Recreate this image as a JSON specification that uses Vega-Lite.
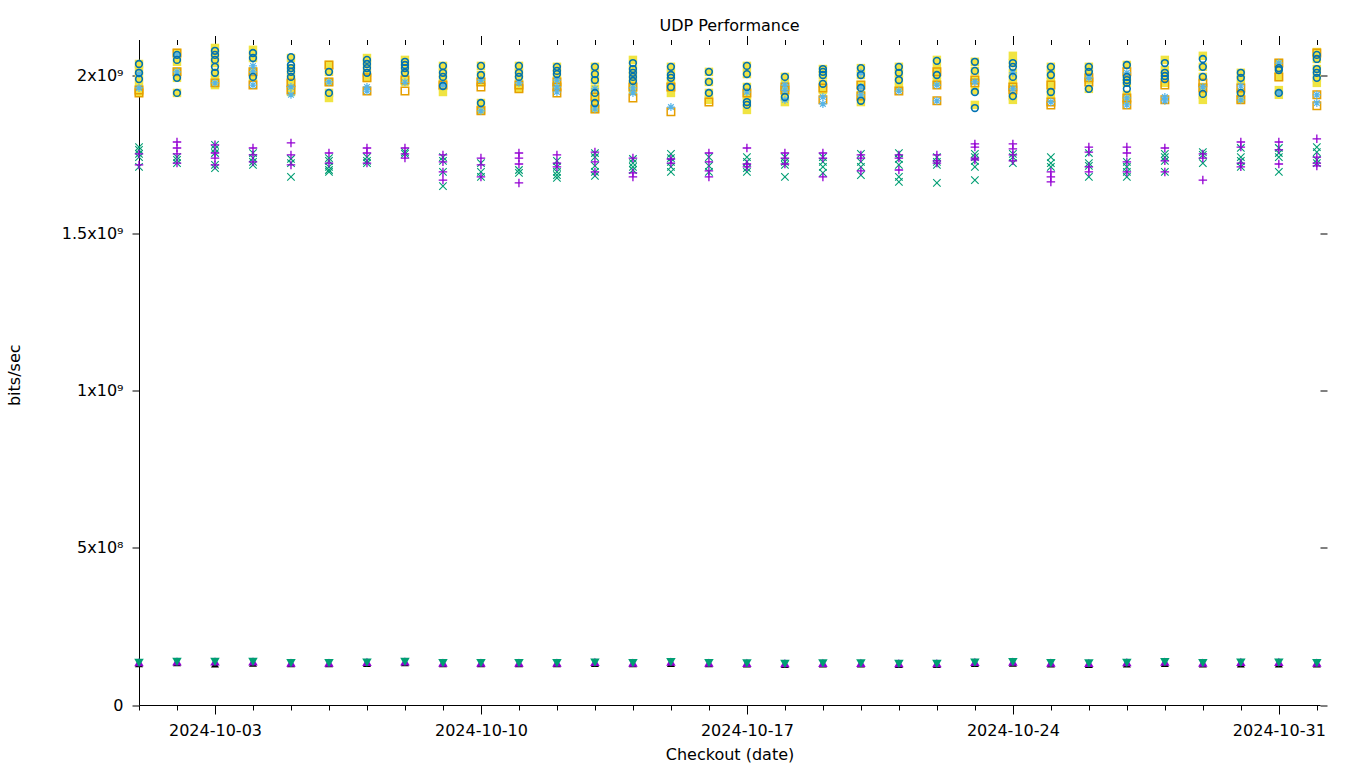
{
"$schema":"https://vega.github.io/schema/vega-lite/v6.json",
"width":1181,"height":660.5,
"autosize":"none",
"padding":{"left":139,"top":44.5,"right":40,"bottom":63},
"background":"white",
"title":{"text":"UDP Performance","font":"DejaVu Sans","fontSize":16,"fontWeight":"normal","color":"black","anchor":"middle","offset":1},
"config":{"view":{"stroke":null},"axis":{"labelFont":"DejaVu Sans","titleFont":"DejaVu Sans","labelFontSize":16,"titleFontSize":16,"titleFontWeight":"normal","labelColor":"black","titleColor":"black","tickColor":"black","domainColor":"black","grid":false,"tickWidth":1,"domainWidth":1}},
"data":{"format":{"parse":{"date":"utc:'%Y-%m-%d'"}},"values":[
{"date":"2024-10-01","s":"s8","bps":1.31e8},{"date":"2024-10-01","s":"s9","bps":1.36e8},{"date":"2024-10-01","s":"s10","bps":1.34e8},
{"date":"2024-10-01","s":"s6","bps":2.038e9},{"date":"2024-10-01","s":"s6","bps":2.010e9},{"date":"2024-10-01","s":"s6","bps":1.990e9},
{"date":"2024-10-01","s":"s4","bps":1.955e9},{"date":"2024-10-01","s":"s4","bps":1.946e9},
{"date":"2024-10-01","s":"s3","bps":2.006e9},{"date":"2024-10-01","s":"s3","bps":1.962e9},
{"date":"2024-10-01","s":"s5","bps":2.038e9},{"date":"2024-10-01","s":"s5","bps":2.019e9},{"date":"2024-10-01","s":"s5","bps":1.997e9},{"date":"2024-10-01","s":"s5","bps":1.971e9},{"date":"2024-10-01","s":"s5","bps":1.949e9},
{"date":"2024-10-01","s":"s1","bps":1.752e9},{"date":"2024-10-01","s":"s1","bps":1.717e9},
{"date":"2024-10-01","s":"s2","bps":1.774e9},{"date":"2024-10-01","s":"s2","bps":1.765e9},{"date":"2024-10-01","s":"s2","bps":1.752e9},{"date":"2024-10-01","s":"s2","bps":1.742e9},{"date":"2024-10-01","s":"s2","bps":1.711e9},

{"date":"2024-10-02","s":"s8","bps":1.34e8},{"date":"2024-10-02","s":"s9","bps":1.39e8},{"date":"2024-10-02","s":"s10","bps":1.37e8},
{"date":"2024-10-02","s":"s6","bps":2.067e9},{"date":"2024-10-02","s":"s6","bps":2.051e9},{"date":"2024-10-02","s":"s6","bps":1.994e9},{"date":"2024-10-02","s":"s6","bps":1.946e9},
{"date":"2024-10-02","s":"s4","bps":2.073e9},{"date":"2024-10-02","s":"s4","bps":2.013e9},
{"date":"2024-10-02","s":"s3","bps":2.067e9},{"date":"2024-10-02","s":"s3","bps":2.013e9},
{"date":"2024-10-02","s":"s5","bps":2.073e9},{"date":"2024-10-02","s":"s5","bps":2.045e9},{"date":"2024-10-02","s":"s5","bps":2.013e9},{"date":"2024-10-02","s":"s5","bps":1.994e9},{"date":"2024-10-02","s":"s5","bps":1.946e9},
{"date":"2024-10-02","s":"s1","bps":1.790e9},{"date":"2024-10-02","s":"s1","bps":1.771e9},{"date":"2024-10-02","s":"s1","bps":1.752e9},{"date":"2024-10-02","s":"s1","bps":1.723e9},
{"date":"2024-10-02","s":"s2","bps":1.742e9},{"date":"2024-10-02","s":"s2","bps":1.733e9},{"date":"2024-10-02","s":"s2","bps":1.723e9},

{"date":"2024-10-03","s":"s8","bps":1.30e8},{"date":"2024-10-03","s":"s9","bps":1.39e8},{"date":"2024-10-03","s":"s10","bps":1.37e8},
{"date":"2024-10-03","s":"s6","bps":2.080e9},{"date":"2024-10-03","s":"s6","bps":2.067e9},{"date":"2024-10-03","s":"s6","bps":2.051e9},{"date":"2024-10-03","s":"s6","bps":2.029e9},{"date":"2024-10-03","s":"s6","bps":2.010e9},
{"date":"2024-10-03","s":"s4","bps":1.978e9},
{"date":"2024-10-03","s":"s3","bps":1.978e9},
{"date":"2024-10-03","s":"s5","bps":2.089e9},{"date":"2024-10-03","s":"s5","bps":2.067e9},{"date":"2024-10-03","s":"s5","bps":2.041e9},{"date":"2024-10-03","s":"s5","bps":2.010e9},{"date":"2024-10-03","s":"s5","bps":1.987e9},{"date":"2024-10-03","s":"s5","bps":1.971e9},
{"date":"2024-10-03","s":"s1","bps":1.781e9},{"date":"2024-10-03","s":"s1","bps":1.755e9},{"date":"2024-10-03","s":"s1","bps":1.739e9},{"date":"2024-10-03","s":"s1","bps":1.717e9},
{"date":"2024-10-03","s":"s2","bps":1.781e9},{"date":"2024-10-03","s":"s2","bps":1.768e9},{"date":"2024-10-03","s":"s2","bps":1.755e9},{"date":"2024-10-03","s":"s2","bps":1.717e9},{"date":"2024-10-03","s":"s2","bps":1.707e9},

{"date":"2024-10-04","s":"s8","bps":1.33e8},{"date":"2024-10-04","s":"s9","bps":1.39e8},{"date":"2024-10-04","s":"s10","bps":1.37e8},
{"date":"2024-10-04","s":"s6","bps":2.073e9},{"date":"2024-10-04","s":"s6","bps":2.057e9},{"date":"2024-10-04","s":"s6","bps":1.997e9},
{"date":"2024-10-04","s":"s4","bps":2.013e9},{"date":"2024-10-04","s":"s4","bps":1.971e9},
{"date":"2024-10-04","s":"s3","bps":2.032e9},{"date":"2024-10-04","s":"s3","bps":2.013e9},{"date":"2024-10-04","s":"s3","bps":1.971e9},
{"date":"2024-10-04","s":"s5","bps":2.083e9},{"date":"2024-10-04","s":"s5","bps":2.057e9},{"date":"2024-10-04","s":"s5","bps":2.013e9},{"date":"2024-10-04","s":"s5","bps":1.997e9},
{"date":"2024-10-04","s":"s1","bps":1.771e9},{"date":"2024-10-04","s":"s1","bps":1.749e9},{"date":"2024-10-04","s":"s1","bps":1.727e9},
{"date":"2024-10-04","s":"s2","bps":1.755e9},{"date":"2024-10-04","s":"s2","bps":1.739e9},{"date":"2024-10-04","s":"s2","bps":1.727e9},{"date":"2024-10-04","s":"s2","bps":1.717e9},

{"date":"2024-10-05","s":"s8","bps":1.31e8},{"date":"2024-10-05","s":"s9","bps":1.35e8},{"date":"2024-10-05","s":"s10","bps":1.33e8},
{"date":"2024-10-05","s":"s6","bps":2.060e9},{"date":"2024-10-05","s":"s6","bps":2.035e9},{"date":"2024-10-05","s":"s6","bps":2.025e9},{"date":"2024-10-05","s":"s6","bps":2.013e9},{"date":"2024-10-05","s":"s6","bps":1.997e9},
{"date":"2024-10-05","s":"s4","bps":1.978e9},{"date":"2024-10-05","s":"s4","bps":1.955e9},
{"date":"2024-10-05","s":"s3","bps":1.965e9},{"date":"2024-10-05","s":"s3","bps":1.940e9},
{"date":"2024-10-05","s":"s5","bps":2.057e9},{"date":"2024-10-05","s":"s5","bps":2.025e9},{"date":"2024-10-05","s":"s5","bps":1.997e9},{"date":"2024-10-05","s":"s5","bps":1.971e9},{"date":"2024-10-05","s":"s5","bps":1.949e9},
{"date":"2024-10-05","s":"s1","bps":1.787e9},{"date":"2024-10-05","s":"s1","bps":1.749e9},{"date":"2024-10-05","s":"s1","bps":1.717e9},
{"date":"2024-10-05","s":"s2","bps":1.736e9},{"date":"2024-10-05","s":"s2","bps":1.723e9},{"date":"2024-10-05","s":"s2","bps":1.679e9},

{"date":"2024-10-06","s":"s8","bps":1.31e8},{"date":"2024-10-06","s":"s9","bps":1.35e8},{"date":"2024-10-06","s":"s10","bps":1.33e8},
{"date":"2024-10-06","s":"s6","bps":2.013e9},{"date":"2024-10-06","s":"s6","bps":1.946e9},
{"date":"2024-10-06","s":"s4","bps":2.035e9},{"date":"2024-10-06","s":"s4","bps":1.981e9},
{"date":"2024-10-06","s":"s3","bps":1.981e9},
{"date":"2024-10-06","s":"s5","bps":2.035e9},{"date":"2024-10-06","s":"s5","bps":2.013e9},{"date":"2024-10-06","s":"s5","bps":1.981e9},{"date":"2024-10-06","s":"s5","bps":1.946e9},{"date":"2024-10-06","s":"s5","bps":1.930e9},
{"date":"2024-10-06","s":"s1","bps":1.755e9},{"date":"2024-10-06","s":"s1","bps":1.723e9},
{"date":"2024-10-06","s":"s2","bps":1.739e9},{"date":"2024-10-06","s":"s2","bps":1.730e9},{"date":"2024-10-06","s":"s2","bps":1.711e9},{"date":"2024-10-06","s":"s2","bps":1.701e9},{"date":"2024-10-06","s":"s2","bps":1.695e9},

{"date":"2024-10-07","s":"s8","bps":1.32e8},{"date":"2024-10-07","s":"s9","bps":1.37e8},{"date":"2024-10-07","s":"s10","bps":1.35e8},
{"date":"2024-10-07","s":"s6","bps":2.051e9},{"date":"2024-10-07","s":"s6","bps":2.038e9},{"date":"2024-10-07","s":"s6","bps":2.025e9},{"date":"2024-10-07","s":"s6","bps":2.010e9},
{"date":"2024-10-07","s":"s4","bps":1.994e9},{"date":"2024-10-07","s":"s4","bps":1.952e9},
{"date":"2024-10-07","s":"s3","bps":1.965e9},{"date":"2024-10-07","s":"s3","bps":1.952e9},
{"date":"2024-10-07","s":"s5","bps":2.057e9},{"date":"2024-10-07","s":"s5","bps":2.038e9},{"date":"2024-10-07","s":"s5","bps":2.010e9},{"date":"2024-10-07","s":"s5","bps":1.994e9},
{"date":"2024-10-07","s":"s1","bps":1.771e9},{"date":"2024-10-07","s":"s1","bps":1.755e9},{"date":"2024-10-07","s":"s1","bps":1.723e9},
{"date":"2024-10-07","s":"s2","bps":1.742e9},{"date":"2024-10-07","s":"s2","bps":1.730e9},{"date":"2024-10-07","s":"s2","bps":1.723e9},

{"date":"2024-10-08","s":"s8","bps":1.34e8},{"date":"2024-10-08","s":"s9","bps":1.39e8},{"date":"2024-10-08","s":"s10","bps":1.37e8},
{"date":"2024-10-08","s":"s6","bps":2.045e9},{"date":"2024-10-08","s":"s6","bps":2.035e9},{"date":"2024-10-08","s":"s6","bps":2.025e9},{"date":"2024-10-08","s":"s6","bps":2.010e9},
{"date":"2024-10-08","s":"s4","bps":1.987e9},{"date":"2024-10-08","s":"s4","bps":1.952e9},
{"date":"2024-10-08","s":"s3","bps":1.980e9},
{"date":"2024-10-08","s":"s5","bps":2.051e9},{"date":"2024-10-08","s":"s5","bps":2.025e9},{"date":"2024-10-08","s":"s5","bps":2.003e9},{"date":"2024-10-08","s":"s5","bps":1.981e9},
{"date":"2024-10-08","s":"s1","bps":1.771e9},{"date":"2024-10-08","s":"s1","bps":1.752e9},{"date":"2024-10-08","s":"s1","bps":1.739e9},
{"date":"2024-10-08","s":"s2","bps":1.758e9},{"date":"2024-10-08","s":"s2","bps":1.752e9},

{"date":"2024-10-09","s":"s8","bps":1.31e8},{"date":"2024-10-09","s":"s9","bps":1.35e8},{"date":"2024-10-09","s":"s10","bps":1.33e8},
{"date":"2024-10-09","s":"s6","bps":2.032e9},{"date":"2024-10-09","s":"s6","bps":2.010e9},{"date":"2024-10-09","s":"s6","bps":1.997e9},{"date":"2024-10-09","s":"s6","bps":1.968e9},
{"date":"2024-10-09","s":"s4","bps":1.971e9},
{"date":"2024-10-09","s":"s3","bps":1.971e9},
{"date":"2024-10-09","s":"s5","bps":2.032e9},{"date":"2024-10-09","s":"s5","bps":2.010e9},{"date":"2024-10-09","s":"s5","bps":1.987e9},{"date":"2024-10-09","s":"s5","bps":1.968e9},{"date":"2024-10-09","s":"s5","bps":1.949e9},
{"date":"2024-10-09","s":"s1","bps":1.749e9},{"date":"2024-10-09","s":"s1","bps":1.727e9},{"date":"2024-10-09","s":"s1","bps":1.695e9},{"date":"2024-10-09","s":"s1","bps":1.669e9},
{"date":"2024-10-09","s":"s2","bps":1.742e9},{"date":"2024-10-09","s":"s2","bps":1.730e9},{"date":"2024-10-09","s":"s2","bps":1.695e9},{"date":"2024-10-09","s":"s2","bps":1.650e9},

{"date":"2024-10-10","s":"s8","bps":1.31e8},{"date":"2024-10-10","s":"s9","bps":1.35e8},{"date":"2024-10-10","s":"s10","bps":1.33e8},
{"date":"2024-10-10","s":"s6","bps":2.032e9},{"date":"2024-10-10","s":"s6","bps":2.003e9},{"date":"2024-10-10","s":"s6","bps":1.914e9},
{"date":"2024-10-10","s":"s4","bps":1.981e9},{"date":"2024-10-10","s":"s4","bps":1.965e9},{"date":"2024-10-10","s":"s4","bps":1.889e9},
{"date":"2024-10-10","s":"s3","bps":1.987e9},{"date":"2024-10-10","s":"s3","bps":1.889e9},
{"date":"2024-10-10","s":"s5","bps":2.032e9},{"date":"2024-10-10","s":"s5","bps":2.003e9},{"date":"2024-10-10","s":"s5","bps":1.981e9},{"date":"2024-10-10","s":"s5","bps":1.914e9},{"date":"2024-10-10","s":"s5","bps":1.892e9},
{"date":"2024-10-10","s":"s1","bps":1.739e9},{"date":"2024-10-10","s":"s1","bps":1.717e9},{"date":"2024-10-10","s":"s1","bps":1.679e9},
{"date":"2024-10-10","s":"s2","bps":1.723e9},{"date":"2024-10-10","s":"s2","bps":1.695e9},{"date":"2024-10-10","s":"s2","bps":1.679e9},

{"date":"2024-10-11","s":"s8","bps":1.31e8},{"date":"2024-10-11","s":"s9","bps":1.35e8},{"date":"2024-10-11","s":"s10","bps":1.33e8},
{"date":"2024-10-11","s":"s6","bps":2.032e9},{"date":"2024-10-11","s":"s6","bps":2.010e9},{"date":"2024-10-11","s":"s6","bps":1.997e9},
{"date":"2024-10-11","s":"s4","bps":1.971e9},{"date":"2024-10-11","s":"s4","bps":1.959e9},
{"date":"2024-10-11","s":"s3","bps":1.978e9},
{"date":"2024-10-11","s":"s5","bps":2.032e9},{"date":"2024-10-11","s":"s5","bps":2.010e9},{"date":"2024-10-11","s":"s5","bps":1.987e9},{"date":"2024-10-11","s":"s5","bps":1.962e9},
{"date":"2024-10-11","s":"s1","bps":1.755e9},{"date":"2024-10-11","s":"s1","bps":1.739e9},{"date":"2024-10-11","s":"s1","bps":1.720e9},{"date":"2024-10-11","s":"s1","bps":1.660e9},
{"date":"2024-10-11","s":"s2","bps":1.701e9},{"date":"2024-10-11","s":"s2","bps":1.692e9},

{"date":"2024-10-12","s":"s8","bps":1.31e8},{"date":"2024-10-12","s":"s9","bps":1.35e8},{"date":"2024-10-12","s":"s10","bps":1.33e8},
{"date":"2024-10-12","s":"s6","bps":2.029e9},{"date":"2024-10-12","s":"s6","bps":2.016e9},{"date":"2024-10-12","s":"s6","bps":2.006e9},
{"date":"2024-10-12","s":"s4","bps":1.981e9},{"date":"2024-10-12","s":"s4","bps":1.965e9},{"date":"2024-10-12","s":"s4","bps":1.946e9},
{"date":"2024-10-12","s":"s3","bps":1.987e9},{"date":"2024-10-12","s":"s3","bps":1.965e9},{"date":"2024-10-12","s":"s3","bps":1.949e9},
{"date":"2024-10-12","s":"s5","bps":2.029e9},{"date":"2024-10-12","s":"s5","bps":2.006e9},{"date":"2024-10-12","s":"s5","bps":1.981e9},{"date":"2024-10-12","s":"s5","bps":1.965e9},
{"date":"2024-10-12","s":"s1","bps":1.749e9},{"date":"2024-10-12","s":"s1","bps":1.723e9},{"date":"2024-10-12","s":"s1","bps":1.711e9},
{"date":"2024-10-12","s":"s2","bps":1.730e9},{"date":"2024-10-12","s":"s2","bps":1.711e9},{"date":"2024-10-12","s":"s2","bps":1.695e9},{"date":"2024-10-12","s":"s2","bps":1.685e9},{"date":"2024-10-12","s":"s2","bps":1.676e9},

{"date":"2024-10-13","s":"s8","bps":1.32e8},{"date":"2024-10-13","s":"s9","bps":1.37e8},{"date":"2024-10-13","s":"s10","bps":1.35e8},
{"date":"2024-10-13","s":"s6","bps":2.029e9},{"date":"2024-10-13","s":"s6","bps":2.006e9},{"date":"2024-10-13","s":"s6","bps":1.987e9},{"date":"2024-10-13","s":"s6","bps":1.946e9},{"date":"2024-10-13","s":"s6","bps":1.914e9},
{"date":"2024-10-13","s":"s4","bps":1.933e9},{"date":"2024-10-13","s":"s4","bps":1.895e9},
{"date":"2024-10-13","s":"s3","bps":1.959e9},{"date":"2024-10-13","s":"s3","bps":1.895e9},
{"date":"2024-10-13","s":"s5","bps":2.029e9},{"date":"2024-10-13","s":"s5","bps":2.006e9},{"date":"2024-10-13","s":"s5","bps":1.987e9},{"date":"2024-10-13","s":"s5","bps":1.959e9},{"date":"2024-10-13","s":"s5","bps":1.933e9},{"date":"2024-10-13","s":"s5","bps":1.914e9},{"date":"2024-10-13","s":"s5","bps":1.895e9},
{"date":"2024-10-13","s":"s1","bps":1.758e9},{"date":"2024-10-13","s":"s1","bps":1.727e9},{"date":"2024-10-13","s":"s1","bps":1.695e9},
{"date":"2024-10-13","s":"s2","bps":1.755e9},{"date":"2024-10-13","s":"s2","bps":1.742e9},{"date":"2024-10-13","s":"s2","bps":1.714e9},{"date":"2024-10-13","s":"s2","bps":1.695e9},{"date":"2024-10-13","s":"s2","bps":1.682e9},

{"date":"2024-10-14","s":"s8","bps":1.31e8},{"date":"2024-10-14","s":"s9","bps":1.35e8},{"date":"2024-10-14","s":"s10","bps":1.33e8},
{"date":"2024-10-14","s":"s6","bps":2.041e9},{"date":"2024-10-14","s":"s6","bps":2.022e9},{"date":"2024-10-14","s":"s6","bps":2.010e9},{"date":"2024-10-14","s":"s6","bps":1.997e9},{"date":"2024-10-14","s":"s6","bps":1.984e9},
{"date":"2024-10-14","s":"s4","bps":1.965e9},{"date":"2024-10-14","s":"s4","bps":1.930e9},
{"date":"2024-10-14","s":"s3","bps":1.962e9},{"date":"2024-10-14","s":"s3","bps":1.946e9},
{"date":"2024-10-14","s":"s5","bps":2.051e9},{"date":"2024-10-14","s":"s5","bps":2.022e9},{"date":"2024-10-14","s":"s5","bps":1.997e9},{"date":"2024-10-14","s":"s5","bps":1.971e9},{"date":"2024-10-14","s":"s5","bps":1.955e9},
{"date":"2024-10-14","s":"s1","bps":1.739e9},{"date":"2024-10-14","s":"s1","bps":1.692e9},{"date":"2024-10-14","s":"s1","bps":1.679e9},
{"date":"2024-10-14","s":"s2","bps":1.736e9},{"date":"2024-10-14","s":"s2","bps":1.723e9},{"date":"2024-10-14","s":"s2","bps":1.711e9},{"date":"2024-10-14","s":"s2","bps":1.701e9},

{"date":"2024-10-15","s":"s8","bps":1.32e8},{"date":"2024-10-15","s":"s9","bps":1.38e8},{"date":"2024-10-15","s":"s10","bps":1.36e8},
{"date":"2024-10-15","s":"s6","bps":2.029e9},{"date":"2024-10-15","s":"s6","bps":2.003e9},{"date":"2024-10-15","s":"s6","bps":1.994e9},{"date":"2024-10-15","s":"s6","bps":1.965e9},
{"date":"2024-10-15","s":"s4","bps":1.965e9},{"date":"2024-10-15","s":"s4","bps":1.886e9},
{"date":"2024-10-15","s":"s3","bps":1.901e9},
{"date":"2024-10-15","s":"s5","bps":2.029e9},{"date":"2024-10-15","s":"s5","bps":2.003e9},{"date":"2024-10-15","s":"s5","bps":1.981e9},{"date":"2024-10-15","s":"s5","bps":1.965e9},{"date":"2024-10-15","s":"s5","bps":1.946e9},
{"date":"2024-10-15","s":"s1","bps":1.736e9},{"date":"2024-10-15","s":"s1","bps":1.723e9},
{"date":"2024-10-15","s":"s2","bps":1.752e9},{"date":"2024-10-15","s":"s2","bps":1.739e9},{"date":"2024-10-15","s":"s2","bps":1.727e9},{"date":"2024-10-15","s":"s2","bps":1.711e9},{"date":"2024-10-15","s":"s2","bps":1.695e9},

{"date":"2024-10-16","s":"s8","bps":1.31e8},{"date":"2024-10-16","s":"s9","bps":1.35e8},{"date":"2024-10-16","s":"s10","bps":1.33e8},
{"date":"2024-10-16","s":"s6","bps":2.013e9},{"date":"2024-10-16","s":"s6","bps":1.981e9},{"date":"2024-10-16","s":"s6","bps":1.946e9},
{"date":"2024-10-16","s":"s4","bps":1.917e9},
{"date":"2024-10-16","s":"s5","bps":2.013e9},{"date":"2024-10-16","s":"s5","bps":1.981e9},{"date":"2024-10-16","s":"s5","bps":1.946e9},{"date":"2024-10-16","s":"s5","bps":1.924e9},
{"date":"2024-10-16","s":"s1","bps":1.755e9},{"date":"2024-10-16","s":"s1","bps":1.727e9},{"date":"2024-10-16","s":"s1","bps":1.698e9},{"date":"2024-10-16","s":"s1","bps":1.679e9},
{"date":"2024-10-16","s":"s2","bps":1.742e9},{"date":"2024-10-16","s":"s2","bps":1.714e9},{"date":"2024-10-16","s":"s2","bps":1.695e9},

{"date":"2024-10-17","s":"s8","bps":1.30e8},{"date":"2024-10-17","s":"s9","bps":1.34e8},{"date":"2024-10-17","s":"s10","bps":1.32e8},
{"date":"2024-10-17","s":"s6","bps":2.032e9},{"date":"2024-10-17","s":"s6","bps":2.006e9},{"date":"2024-10-17","s":"s6","bps":1.965e9},{"date":"2024-10-17","s":"s6","bps":1.917e9},{"date":"2024-10-17","s":"s6","bps":1.908e9},
{"date":"2024-10-17","s":"s4","bps":1.946e9},
{"date":"2024-10-17","s":"s3","bps":1.949e9},
{"date":"2024-10-17","s":"s5","bps":2.032e9},{"date":"2024-10-17","s":"s5","bps":2.006e9},{"date":"2024-10-17","s":"s5","bps":1.965e9},{"date":"2024-10-17","s":"s5","bps":1.940e9},{"date":"2024-10-17","s":"s5","bps":1.917e9},{"date":"2024-10-17","s":"s5","bps":1.892e9},
{"date":"2024-10-17","s":"s1","bps":1.771e9},{"date":"2024-10-17","s":"s1","bps":1.720e9},{"date":"2024-10-17","s":"s1","bps":1.711e9},
{"date":"2024-10-17","s":"s2","bps":1.742e9},{"date":"2024-10-17","s":"s2","bps":1.727e9},{"date":"2024-10-17","s":"s2","bps":1.707e9},{"date":"2024-10-17","s":"s2","bps":1.695e9},

{"date":"2024-10-18","s":"s8","bps":1.29e8},{"date":"2024-10-18","s":"s9","bps":1.33e8},{"date":"2024-10-18","s":"s10","bps":1.31e8},
{"date":"2024-10-18","s":"s6","bps":1.997e9},{"date":"2024-10-18","s":"s6","bps":1.933e9},
{"date":"2024-10-18","s":"s4","bps":1.965e9},{"date":"2024-10-18","s":"s4","bps":1.955e9},
{"date":"2024-10-18","s":"s3","bps":1.971e9},{"date":"2024-10-18","s":"s3","bps":1.955e9},{"date":"2024-10-18","s":"s3","bps":1.924e9},
{"date":"2024-10-18","s":"s5","bps":1.997e9},{"date":"2024-10-18","s":"s5","bps":1.971e9},{"date":"2024-10-18","s":"s5","bps":1.955e9},{"date":"2024-10-18","s":"s5","bps":1.933e9},{"date":"2024-10-18","s":"s5","bps":1.917e9},
{"date":"2024-10-18","s":"s1","bps":1.755e9},{"date":"2024-10-18","s":"s1","bps":1.739e9},{"date":"2024-10-18","s":"s1","bps":1.720e9},
{"date":"2024-10-18","s":"s2","bps":1.742e9},{"date":"2024-10-18","s":"s2","bps":1.727e9},{"date":"2024-10-18","s":"s2","bps":1.717e9},{"date":"2024-10-18","s":"s2","bps":1.679e9},

{"date":"2024-10-19","s":"s8","bps":1.30e8},{"date":"2024-10-19","s":"s9","bps":1.34e8},{"date":"2024-10-19","s":"s10","bps":1.32e8},
{"date":"2024-10-19","s":"s6","bps":2.022e9},{"date":"2024-10-19","s":"s6","bps":2.013e9},{"date":"2024-10-19","s":"s6","bps":2.003e9},{"date":"2024-10-19","s":"s6","bps":1.975e9},
{"date":"2024-10-19","s":"s4","bps":1.962e9},{"date":"2024-10-19","s":"s4","bps":1.924e9},
{"date":"2024-10-19","s":"s3","bps":1.933e9},{"date":"2024-10-19","s":"s3","bps":1.911e9},
{"date":"2024-10-19","s":"s5","bps":2.022e9},{"date":"2024-10-19","s":"s5","bps":2.003e9},{"date":"2024-10-19","s":"s5","bps":1.975e9},{"date":"2024-10-19","s":"s5","bps":1.955e9},
{"date":"2024-10-19","s":"s1","bps":1.755e9},{"date":"2024-10-19","s":"s1","bps":1.739e9},{"date":"2024-10-19","s":"s1","bps":1.679e9},
{"date":"2024-10-19","s":"s2","bps":1.742e9},{"date":"2024-10-19","s":"s2","bps":1.727e9},{"date":"2024-10-19","s":"s2","bps":1.711e9},{"date":"2024-10-19","s":"s2","bps":1.692e9},

{"date":"2024-10-20","s":"s8","bps":1.30e8},{"date":"2024-10-20","s":"s9","bps":1.34e8},{"date":"2024-10-20","s":"s10","bps":1.32e8},
{"date":"2024-10-20","s":"s6","bps":2.025e9},{"date":"2024-10-20","s":"s6","bps":2.003e9},{"date":"2024-10-20","s":"s6","bps":1.962e9},{"date":"2024-10-20","s":"s6","bps":1.921e9},
{"date":"2024-10-20","s":"s4","bps":1.971e9},{"date":"2024-10-20","s":"s4","bps":1.936e9},
{"date":"2024-10-20","s":"s3","bps":2.010e9},{"date":"2024-10-20","s":"s3","bps":1.965e9},{"date":"2024-10-20","s":"s3","bps":1.940e9},
{"date":"2024-10-20","s":"s5","bps":2.025e9},{"date":"2024-10-20","s":"s5","bps":2.003e9},{"date":"2024-10-20","s":"s5","bps":1.971e9},{"date":"2024-10-20","s":"s5","bps":1.940e9},{"date":"2024-10-20","s":"s5","bps":1.917e9},
{"date":"2024-10-20","s":"s1","bps":1.749e9},{"date":"2024-10-20","s":"s1","bps":1.739e9},{"date":"2024-10-20","s":"s1","bps":1.698e9},
{"date":"2024-10-20","s":"s2","bps":1.752e9},{"date":"2024-10-20","s":"s2","bps":1.727e9},{"date":"2024-10-20","s":"s2","bps":1.711e9},{"date":"2024-10-20","s":"s2","bps":1.685e9},

{"date":"2024-10-21","s":"s8","bps":1.29e8},{"date":"2024-10-21","s":"s9","bps":1.33e8},{"date":"2024-10-21","s":"s10","bps":1.31e8},
{"date":"2024-10-21","s":"s6","bps":2.029e9},{"date":"2024-10-21","s":"s6","bps":2.010e9},{"date":"2024-10-21","s":"s6","bps":1.987e9},
{"date":"2024-10-21","s":"s4","bps":1.952e9},
{"date":"2024-10-21","s":"s3","bps":1.952e9},
{"date":"2024-10-21","s":"s5","bps":2.029e9},{"date":"2024-10-21","s":"s5","bps":2.010e9},{"date":"2024-10-21","s":"s5","bps":1.987e9},{"date":"2024-10-21","s":"s5","bps":1.962e9},
{"date":"2024-10-21","s":"s1","bps":1.749e9},{"date":"2024-10-21","s":"s1","bps":1.739e9},{"date":"2024-10-21","s":"s1","bps":1.701e9},
{"date":"2024-10-21","s":"s2","bps":1.755e9},{"date":"2024-10-21","s":"s2","bps":1.736e9},{"date":"2024-10-21","s":"s2","bps":1.717e9},{"date":"2024-10-21","s":"s2","bps":1.679e9},{"date":"2024-10-21","s":"s2","bps":1.663e9},

{"date":"2024-10-22","s":"s8","bps":1.29e8},{"date":"2024-10-22","s":"s9","bps":1.33e8},{"date":"2024-10-22","s":"s10","bps":1.31e8},
{"date":"2024-10-22","s":"s6","bps":2.048e9},{"date":"2024-10-22","s":"s6","bps":2.003e9},
{"date":"2024-10-22","s":"s4","bps":2.013e9},{"date":"2024-10-22","s":"s4","bps":1.971e9},{"date":"2024-10-22","s":"s4","bps":1.921e9},
{"date":"2024-10-22","s":"s3","bps":1.971e9},{"date":"2024-10-22","s":"s3","bps":1.921e9},
{"date":"2024-10-22","s":"s5","bps":2.051e9},{"date":"2024-10-22","s":"s5","bps":2.025e9},{"date":"2024-10-22","s":"s5","bps":2.003e9},{"date":"2024-10-22","s":"s5","bps":1.981e9},
{"date":"2024-10-22","s":"s1","bps":1.749e9},{"date":"2024-10-22","s":"s1","bps":1.730e9},{"date":"2024-10-22","s":"s1","bps":1.723e9},
{"date":"2024-10-22","s":"s2","bps":1.742e9},{"date":"2024-10-22","s":"s2","bps":1.727e9},{"date":"2024-10-22","s":"s2","bps":1.717e9},{"date":"2024-10-22","s":"s2","bps":1.660e9},

{"date":"2024-10-23","s":"s8","bps":1.32e8},{"date":"2024-10-23","s":"s9","bps":1.37e8},{"date":"2024-10-23","s":"s10","bps":1.35e8},
{"date":"2024-10-23","s":"s6","bps":2.045e9},{"date":"2024-10-23","s":"s6","bps":2.016e9},{"date":"2024-10-23","s":"s6","bps":1.949e9},{"date":"2024-10-23","s":"s6","bps":1.898e9},
{"date":"2024-10-23","s":"s4","bps":1.987e9},{"date":"2024-10-23","s":"s4","bps":1.978e9},
{"date":"2024-10-23","s":"s3","bps":1.981e9},
{"date":"2024-10-23","s":"s5","bps":2.045e9},{"date":"2024-10-23","s":"s5","bps":2.016e9},{"date":"2024-10-23","s":"s5","bps":1.987e9},{"date":"2024-10-23","s":"s5","bps":1.955e9},{"date":"2024-10-23","s":"s5","bps":1.908e9},
{"date":"2024-10-23","s":"s1","bps":1.784e9},{"date":"2024-10-23","s":"s1","bps":1.774e9},{"date":"2024-10-23","s":"s1","bps":1.739e9},{"date":"2024-10-23","s":"s1","bps":1.733e9},
{"date":"2024-10-23","s":"s2","bps":1.752e9},{"date":"2024-10-23","s":"s2","bps":1.742e9},{"date":"2024-10-23","s":"s2","bps":1.730e9},{"date":"2024-10-23","s":"s2","bps":1.711e9},{"date":"2024-10-23","s":"s2","bps":1.669e9},

{"date":"2024-10-24","s":"s8","bps":1.33e8},{"date":"2024-10-24","s":"s9","bps":1.38e8},{"date":"2024-10-24","s":"s10","bps":1.36e8},
{"date":"2024-10-24","s":"s6","bps":2.041e9},{"date":"2024-10-24","s":"s6","bps":2.029e9},{"date":"2024-10-24","s":"s6","bps":1.997e9},{"date":"2024-10-24","s":"s6","bps":1.936e9},
{"date":"2024-10-24","s":"s4","bps":1.965e9},{"date":"2024-10-24","s":"s4","bps":1.955e9},
{"date":"2024-10-24","s":"s3","bps":2.010e9},{"date":"2024-10-24","s":"s3","bps":1.959e9},
{"date":"2024-10-24","s":"s5","bps":2.064e9},{"date":"2024-10-24","s":"s5","bps":2.041e9},{"date":"2024-10-24","s":"s5","bps":2.010e9},{"date":"2024-10-24","s":"s5","bps":1.987e9},{"date":"2024-10-24","s":"s5","bps":1.965e9},{"date":"2024-10-24","s":"s5","bps":1.936e9},{"date":"2024-10-24","s":"s5","bps":1.924e9},
{"date":"2024-10-24","s":"s1","bps":1.784e9},{"date":"2024-10-24","s":"s1","bps":1.768e9},{"date":"2024-10-24","s":"s1","bps":1.749e9},{"date":"2024-10-24","s":"s1","bps":1.730e9},
{"date":"2024-10-24","s":"s2","bps":1.752e9},{"date":"2024-10-24","s":"s2","bps":1.742e9},{"date":"2024-10-24","s":"s2","bps":1.723e9},

{"date":"2024-10-25","s":"s8","bps":1.30e8},{"date":"2024-10-25","s":"s9","bps":1.35e8},{"date":"2024-10-25","s":"s10","bps":1.33e8},
{"date":"2024-10-25","s":"s6","bps":2.029e9},{"date":"2024-10-25","s":"s6","bps":2.003e9},{"date":"2024-10-25","s":"s6","bps":1.949e9},
{"date":"2024-10-25","s":"s4","bps":1.971e9},{"date":"2024-10-25","s":"s4","bps":1.917e9},{"date":"2024-10-25","s":"s4","bps":1.908e9},
{"date":"2024-10-25","s":"s3","bps":1.917e9},
{"date":"2024-10-25","s":"s5","bps":2.029e9},{"date":"2024-10-25","s":"s5","bps":2.003e9},{"date":"2024-10-25","s":"s5","bps":1.981e9},{"date":"2024-10-25","s":"s5","bps":1.962e9},{"date":"2024-10-25","s":"s5","bps":1.940e9},
{"date":"2024-10-25","s":"s1","bps":1.695e9},{"date":"2024-10-25","s":"s1","bps":1.679e9},{"date":"2024-10-25","s":"s1","bps":1.663e9},
{"date":"2024-10-25","s":"s2","bps":1.742e9},{"date":"2024-10-25","s":"s2","bps":1.723e9},{"date":"2024-10-25","s":"s2","bps":1.711e9},

{"date":"2024-10-26","s":"s8","bps":1.29e8},{"date":"2024-10-26","s":"s9","bps":1.34e8},{"date":"2024-10-26","s":"s10","bps":1.32e8},
{"date":"2024-10-26","s":"s6","bps":2.029e9},{"date":"2024-10-26","s":"s6","bps":2.013e9},{"date":"2024-10-26","s":"s6","bps":1.959e9},
{"date":"2024-10-26","s":"s4","bps":1.994e9},{"date":"2024-10-26","s":"s4","bps":1.981e9},
{"date":"2024-10-26","s":"s3","bps":1.994e9},
{"date":"2024-10-26","s":"s5","bps":2.029e9},{"date":"2024-10-26","s":"s5","bps":2.013e9},{"date":"2024-10-26","s":"s5","bps":1.987e9},{"date":"2024-10-26","s":"s5","bps":1.959e9},
{"date":"2024-10-26","s":"s1","bps":1.774e9},{"date":"2024-10-26","s":"s1","bps":1.758e9},{"date":"2024-10-26","s":"s1","bps":1.711e9},{"date":"2024-10-26","s":"s1","bps":1.695e9},
{"date":"2024-10-26","s":"s2","bps":1.755e9},{"date":"2024-10-26","s":"s2","bps":1.723e9},{"date":"2024-10-26","s":"s2","bps":1.714e9},{"date":"2024-10-26","s":"s2","bps":1.679e9},

{"date":"2024-10-27","s":"s8","bps":1.30e8},{"date":"2024-10-27","s":"s9","bps":1.36e8},{"date":"2024-10-27","s":"s10","bps":1.34e8},
{"date":"2024-10-27","s":"s6","bps":2.035e9},{"date":"2024-10-27","s":"s6","bps":1.997e9},{"date":"2024-10-27","s":"s6","bps":1.987e9},{"date":"2024-10-27","s":"s6","bps":1.978e9},{"date":"2024-10-27","s":"s6","bps":1.959e9},
{"date":"2024-10-27","s":"s4","bps":2.013e9},{"date":"2024-10-27","s":"s4","bps":1.930e9},{"date":"2024-10-27","s":"s4","bps":1.908e9},
{"date":"2024-10-27","s":"s3","bps":2.010e9},{"date":"2024-10-27","s":"s3","bps":1.930e9},{"date":"2024-10-27","s":"s3","bps":1.908e9},
{"date":"2024-10-27","s":"s5","bps":2.035e9},{"date":"2024-10-27","s":"s5","bps":1.997e9},{"date":"2024-10-27","s":"s5","bps":1.978e9},{"date":"2024-10-27","s":"s5","bps":1.940e9},{"date":"2024-10-27","s":"s5","bps":1.924e9},
{"date":"2024-10-27","s":"s1","bps":1.774e9},{"date":"2024-10-27","s":"s1","bps":1.755e9},{"date":"2024-10-27","s":"s1","bps":1.727e9},{"date":"2024-10-27","s":"s1","bps":1.695e9},
{"date":"2024-10-27","s":"s2","bps":1.727e9},{"date":"2024-10-27","s":"s2","bps":1.711e9},{"date":"2024-10-27","s":"s2","bps":1.695e9},{"date":"2024-10-27","s":"s2","bps":1.679e9},

{"date":"2024-10-28","s":"s8","bps":1.32e8},{"date":"2024-10-28","s":"s9","bps":1.38e8},{"date":"2024-10-28","s":"s10","bps":1.36e8},
{"date":"2024-10-28","s":"s6","bps":2.041e9},{"date":"2024-10-28","s":"s6","bps":2.010e9},{"date":"2024-10-28","s":"s6","bps":2.000e9},{"date":"2024-10-28","s":"s6","bps":1.990e9},
{"date":"2024-10-28","s":"s4","bps":1.971e9},{"date":"2024-10-28","s":"s4","bps":1.924e9},
{"date":"2024-10-28","s":"s3","bps":1.933e9},{"date":"2024-10-28","s":"s3","bps":1.921e9},
{"date":"2024-10-28","s":"s5","bps":2.051e9},{"date":"2024-10-28","s":"s5","bps":2.019e9},{"date":"2024-10-28","s":"s5","bps":2.000e9},{"date":"2024-10-28","s":"s5","bps":1.978e9},
{"date":"2024-10-28","s":"s1","bps":1.771e9},{"date":"2024-10-28","s":"s1","bps":1.730e9},{"date":"2024-10-28","s":"s1","bps":1.695e9},
{"date":"2024-10-28","s":"s2","bps":1.752e9},{"date":"2024-10-28","s":"s2","bps":1.742e9},{"date":"2024-10-28","s":"s2","bps":1.730e9},{"date":"2024-10-28","s":"s2","bps":1.695e9},

{"date":"2024-10-29","s":"s8","bps":1.30e8},{"date":"2024-10-29","s":"s9","bps":1.35e8},{"date":"2024-10-29","s":"s10","bps":1.33e8},
{"date":"2024-10-29","s":"s6","bps":2.054e9},{"date":"2024-10-29","s":"s6","bps":2.029e9},{"date":"2024-10-29","s":"s6","bps":1.997e9},{"date":"2024-10-29","s":"s6","bps":1.943e9},
{"date":"2024-10-29","s":"s4","bps":1.978e9},{"date":"2024-10-29","s":"s4","bps":1.962e9},
{"date":"2024-10-29","s":"s3","bps":1.965e9},
{"date":"2024-10-29","s":"s5","bps":2.064e9},{"date":"2024-10-29","s":"s5","bps":2.029e9},{"date":"2024-10-29","s":"s5","bps":1.997e9},{"date":"2024-10-29","s":"s5","bps":1.965e9},{"date":"2024-10-29","s":"s5","bps":1.940e9},{"date":"2024-10-29","s":"s5","bps":1.924e9},
{"date":"2024-10-29","s":"s1","bps":1.752e9},{"date":"2024-10-29","s":"s1","bps":1.739e9},{"date":"2024-10-29","s":"s1","bps":1.669e9},
{"date":"2024-10-29","s":"s2","bps":1.758e9},{"date":"2024-10-29","s":"s2","bps":1.749e9},{"date":"2024-10-29","s":"s2","bps":1.723e9},

{"date":"2024-10-30","s":"s8","bps":1.30e8},{"date":"2024-10-30","s":"s9","bps":1.37e8},{"date":"2024-10-30","s":"s10","bps":1.35e8},
{"date":"2024-10-30","s":"s6","bps":2.010e9},{"date":"2024-10-30","s":"s6","bps":1.994e9},{"date":"2024-10-30","s":"s6","bps":1.946e9},
{"date":"2024-10-30","s":"s4","bps":1.962e9},{"date":"2024-10-30","s":"s4","bps":1.924e9},
{"date":"2024-10-30","s":"s3","bps":1.968e9},{"date":"2024-10-30","s":"s3","bps":1.924e9},
{"date":"2024-10-30","s":"s5","bps":2.010e9},{"date":"2024-10-30","s":"s5","bps":1.987e9},{"date":"2024-10-30","s":"s5","bps":1.946e9},{"date":"2024-10-30","s":"s5","bps":1.927e9},
{"date":"2024-10-30","s":"s1","bps":1.790e9},{"date":"2024-10-30","s":"s1","bps":1.774e9},{"date":"2024-10-30","s":"s1","bps":1.723e9},{"date":"2024-10-30","s":"s1","bps":1.711e9},
{"date":"2024-10-30","s":"s2","bps":1.771e9},{"date":"2024-10-30","s":"s2","bps":1.742e9},{"date":"2024-10-30","s":"s2","bps":1.730e9},{"date":"2024-10-30","s":"s2","bps":1.711e9},

{"date":"2024-10-31","s":"s8","bps":1.30e8},{"date":"2024-10-31","s":"s9","bps":1.37e8},{"date":"2024-10-31","s":"s10","bps":1.35e8},
{"date":"2024-10-31","s":"s6","bps":2.025e9},{"date":"2024-10-31","s":"s6","bps":2.019e9},{"date":"2024-10-31","s":"s6","bps":1.946e9},
{"date":"2024-10-31","s":"s4","bps":2.041e9},{"date":"2024-10-31","s":"s4","bps":1.997e9},
{"date":"2024-10-31","s":"s3","bps":2.041e9},{"date":"2024-10-31","s":"s3","bps":1.946e9},
{"date":"2024-10-31","s":"s5","bps":2.041e9},{"date":"2024-10-31","s":"s5","bps":2.019e9},{"date":"2024-10-31","s":"s5","bps":1.997e9},{"date":"2024-10-31","s":"s5","bps":1.955e9},{"date":"2024-10-31","s":"s5","bps":1.940e9},
{"date":"2024-10-31","s":"s1","bps":1.790e9},{"date":"2024-10-31","s":"s1","bps":1.765e9},{"date":"2024-10-31","s":"s1","bps":1.720e9},
{"date":"2024-10-31","s":"s2","bps":1.771e9},{"date":"2024-10-31","s":"s2","bps":1.755e9},{"date":"2024-10-31","s":"s2","bps":1.742e9},{"date":"2024-10-31","s":"s2","bps":1.695e9},

{"date":"2024-11-01","s":"s8","bps":1.30e8},{"date":"2024-11-01","s":"s9","bps":1.35e8},{"date":"2024-11-01","s":"s10","bps":1.33e8},
{"date":"2024-11-01","s":"s6","bps":2.067e9},{"date":"2024-11-01","s":"s6","bps":2.054e9},{"date":"2024-11-01","s":"s6","bps":2.022e9},{"date":"2024-11-01","s":"s6","bps":2.010e9},{"date":"2024-11-01","s":"s6","bps":1.994e9},
{"date":"2024-11-01","s":"s4","bps":2.073e9},{"date":"2024-11-01","s":"s4","bps":1.940e9},{"date":"2024-11-01","s":"s4","bps":1.905e9},
{"date":"2024-11-01","s":"s3","bps":1.940e9},{"date":"2024-11-01","s":"s3","bps":1.914e9},
{"date":"2024-11-01","s":"s5","bps":2.076e9},{"date":"2024-11-01","s":"s5","bps":2.054e9},{"date":"2024-11-01","s":"s5","bps":2.022e9},{"date":"2024-11-01","s":"s5","bps":1.994e9},{"date":"2024-11-01","s":"s5","bps":1.978e9},
{"date":"2024-11-01","s":"s1","bps":1.800e9},{"date":"2024-11-01","s":"s1","bps":1.742e9},{"date":"2024-11-01","s":"s1","bps":1.723e9},{"date":"2024-11-01","s":"s1","bps":1.714e9},
{"date":"2024-11-01","s":"s2","bps":1.774e9},{"date":"2024-11-01","s":"s2","bps":1.758e9},{"date":"2024-11-01","s":"s2","bps":1.733e9},{"date":"2024-11-01","s":"s2","bps":1.723e9}
]},
"layer":[
{
"encoding":{
"x":{"field":"date","type":"temporal","scale":{"type":"utc","domain":[1727740800000,1730426400000]},
"axis":{"orient":"bottom","values":[1727740800000,1727827200000,1727913600000,1728000000000,1728086400000,1728172800000,1728259200000,1728345600000,1728432000000,1728518400000,1728604800000,1728691200000,1728777600000,1728864000000,1728950400000,1729036800000,1729123200000,1729209600000,1729296000000,1729382400000,1729468800000,1729555200000,1729641600000,1729728000000,1729814400000,1729900800000,1729987200000,1730073600000,1730160000000,1730246400000,1730332800000,1730419200000],
"labelExpr":"utcday(datum.value)==4 ? utcFormat(datum.value,'%Y-%m-%d') : ''",
"tickSize":{"condition":{"test":"utcday(datum.value)==4","value":9},"value":5},
"labelPadding":8,"labelOverlap":false,"labelFlush":false,"title":"Checkout (date)","titlePadding":8}},
"y":{"field":"bps","type":"quantitative","scale":{"domain":[0,2.1e9],"nice":false},
"axis":{"orient":"left","values":[0,5e8,1e9,1.5e9,2e9],
"labelExpr":"datum.value==0 ? '0' : datum.value==5e8 ? '5x10⁸' : datum.value==1e9 ? '1x10⁹' : datum.value==1.5e9 ? '1.5x10⁹' : '2x10⁹'",
"tickSize":7,"labelPadding":9,"title":"bits/sec","titlePadding":39}}
},
"layer":[
{"transform":[{"filter":"datum.s=='s8'"}],"mark":{"type":"point","shape":"triangle-up","filled":true,"fill":"black","size":64,"opacity":1}},
{"transform":[{"filter":"datum.s=='s9'"}],"mark":{"type":"point","shape":"triangle-up","filled":true,"fill":"#9400D3","size":90,"opacity":1}},
{"transform":[{"filter":"datum.s=='s10'"}],"mark":{"type":"point","shape":"triangle-down","filled":true,"fill":"#009E73","size":90,"opacity":1}},
{"transform":[{"filter":"datum.s=='s5'"}],"mark":{"type":"point","shape":"square","filled":true,"fill":"#F0E442","size":72,"opacity":1}},
{"transform":[{"filter":"datum.s=='s4'"}],"mark":{"type":"point","shape":"square","filled":false,"stroke":"#E69F00","strokeWidth":1.5,"size":56,"opacity":1}},
{"transform":[{"filter":"datum.s=='s3'"}],"mark":{"type":"point","shape":"M-1,0L1,0M0,-1L0,1M-0.7,-0.7L0.7,0.7M-0.7,0.7L0.7,-0.7","filled":false,"stroke":"#56B4E9","strokeWidth":1.2,"size":64,"opacity":1}},
{"transform":[{"filter":"datum.s=='s6'"}],"mark":{"type":"point","shape":"circle","filled":false,"stroke":"#0072B2","strokeWidth":1.6,"size":45,"opacity":1}},
{"transform":[{"filter":"datum.s=='s2'"}],"mark":{"type":"point","shape":"M-1,-1L1,1M-1,1L1,-1","filled":false,"stroke":"#009E73","strokeWidth":1.1,"size":56,"opacity":1}},
{"transform":[{"filter":"datum.s=='s1'"}],"mark":{"type":"point","shape":"M-1,0L1,0M0,-1L0,1","filled":false,"stroke":"#9400D3","strokeWidth":1.3,"size":72,"opacity":1}}
]
},
{
"transform":[{"filter":"datum.s=='s6'"}],
"mark":{"type":"point","opacity":0},
"encoding":{
"x":{"field":"date","type":"temporal","scale":{"type":"utc","domain":[1727740800000,1730426400000]},
"axis":{"orient":"top","values":[1727740800000,1727827200000,1727913600000,1728000000000,1728086400000,1728172800000,1728259200000,1728345600000,1728432000000,1728518400000,1728604800000,1728691200000,1728777600000,1728864000000,1728950400000,1729036800000,1729123200000,1729209600000,1729296000000,1729382400000,1729468800000,1729555200000,1729641600000,1729728000000,1729814400000,1729900800000,1729987200000,1730073600000,1730160000000,1730246400000,1730332800000,1730419200000],
"labels":false,"domain":false,"title":null,
"tickSize":{"condition":{"test":"utcday(datum.value)==4","value":9},"value":5}}},
"y":{"field":"bps","type":"quantitative","scale":{"domain":[0,2.1e9],"nice":false},
"axis":{"orient":"right","values":[0,5e8,1e9,1.5e9,2e9],"labels":false,"domain":false,"title":null,"tickSize":7}}
}
}
],
"resolve":{"axis":{"x":"independent","y":"independent"}}
}
